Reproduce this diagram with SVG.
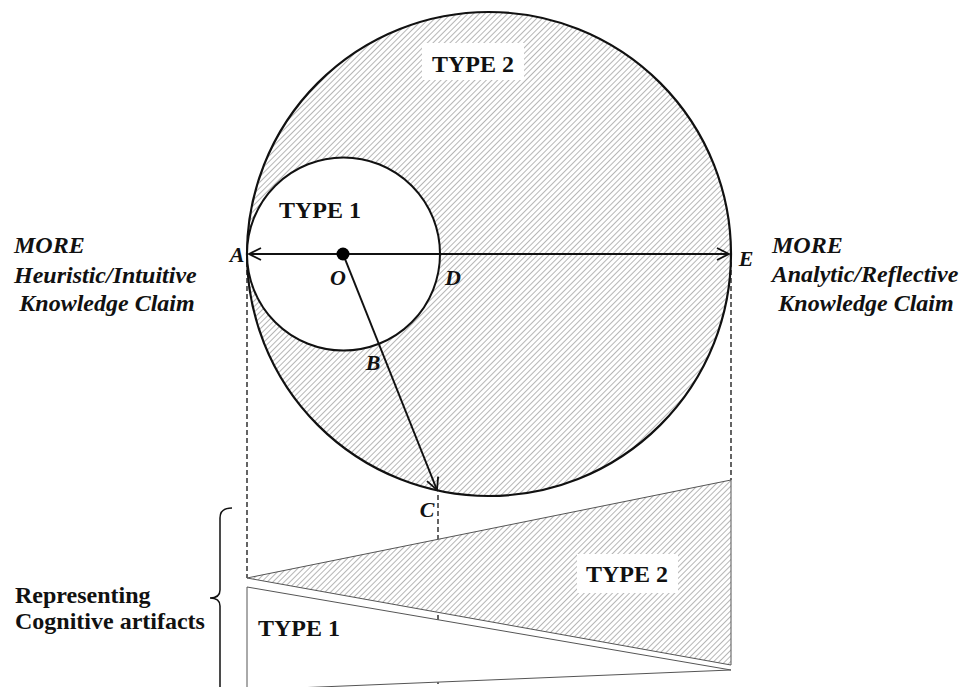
<svg xmlns="http://www.w3.org/2000/svg" width="965" height="687" viewBox="0 0 965 687">
<style>
.t{font-family:"Liberation Serif","Times New Roman",serif;font-weight:bold;fill:#111;}
.lbl{font-size:24px;}
.pt{font-size:22px;}
.ty{font-size:24px;}
.it{font-style:italic;}
.thin{stroke:#555;stroke-width:1;}
.dash{stroke:#111;stroke-width:1.3;stroke-dasharray:5,3;fill:none;}
</style>
<defs>
<pattern id="hatch" patternUnits="userSpaceOnUse" width="4" height="4" patternTransform="rotate(45)">
<rect width="4" height="4" fill="#fff"/>
<line x1="0" y1="0" x2="0" y2="4" stroke="#7a7a7a" stroke-width="1.1"/>
</pattern>
<marker id="arr" markerUnits="userSpaceOnUse" markerWidth="16" markerHeight="14" refX="13" refY="7" orient="auto-start-reverse">
<path d="M1,1 L13,7 L1,13" fill="none" stroke="#111" stroke-width="1.8"/>
</marker>
</defs>

<g id="dashes">
<line class="dash" x1="247" y1="262" x2="247" y2="578"/>
<line class="dash" x1="731" y1="262" x2="731" y2="480"/>
<line class="dash" x1="438" y1="495" x2="438" y2="687"/>
</g>

<g id="big-circle">
<circle cx="489" cy="254" r="242" fill="url(#hatch)" stroke="#111" stroke-width="2.2"/>
<rect x="422" y="43" width="102" height="37" fill="#fff"/>
<text class="t ty" x="473" y="72" text-anchor="middle">TYPE 2</text>
</g>

<g id="small-circle">
<circle cx="343.5" cy="254" r="96.5" fill="#fff" stroke="#111" stroke-width="2"/>
<text class="t ty" x="320" y="218" text-anchor="middle">TYPE 1</text>
</g>

<g id="connectors">
<line x1="249" y1="254" x2="729" y2="254" stroke="#111" stroke-width="2" marker-start="url(#arr)" marker-end="url(#arr)"/>
<line x1="343" y1="254" x2="437" y2="490" stroke="#111" stroke-width="2" marker-end="url(#arr)"/>
</g>

<g id="point-O">
<circle cx="343" cy="254" r="6.5" fill="#000"/>
</g>

<g id="point-labels">
<text class="t it pt" x="237" y="262" text-anchor="middle">A</text>
<text class="t it pt" x="338" y="285" text-anchor="middle">O</text>
<text class="t it pt" x="453" y="285" text-anchor="middle">D</text>
<text class="t it pt" x="373" y="370" text-anchor="middle">B</text>
<text class="t it pt" x="427" y="517" text-anchor="middle">C</text>
<text class="t it pt" x="746" y="266" text-anchor="middle">E</text>
</g>

<g id="left-text">
<text class="t it lbl" x="14" y="253">MORE</text>
<text class="t it lbl" x="14" y="283">Heuristic/Intuitive</text>
<text class="t it lbl" x="107" y="311" text-anchor="middle">Knowledge Claim</text>
</g>

<g id="right-text">
<text class="t it lbl" x="772" y="253">MORE</text>
<text class="t it lbl" x="865" y="282" text-anchor="middle">Analytic/Reflective</text>
<text class="t it lbl" x="866" y="311" text-anchor="middle">Knowledge Claim</text>
</g>

<g id="type2-wedge">
<polygon points="247,578 731,480 731,665" fill="url(#hatch)" class="thin"/>
<rect x="577" y="554" width="101" height="39" fill="#fff"/>
<text class="t ty" x="627" y="582" text-anchor="middle">TYPE 2</text>
</g>

<g id="type1-wedge">
<polygon points="247,587 731,670 247,690" fill="#fff" class="thin"/>
<text class="t ty" x="299" y="636" text-anchor="middle">TYPE 1</text>
</g>

<g id="brace">
<path d="M232,508 Q220,508 220,518 L220,590 Q220,598 210,598 Q220,598 220,606 L220,690" fill="none" stroke="#111" stroke-width="1.5"/>
<text class="t lbl" x="15" y="603">Representing</text>
<text class="t lbl" x="15" y="629">Cognitive artifacts</text>
</g>
</svg>
